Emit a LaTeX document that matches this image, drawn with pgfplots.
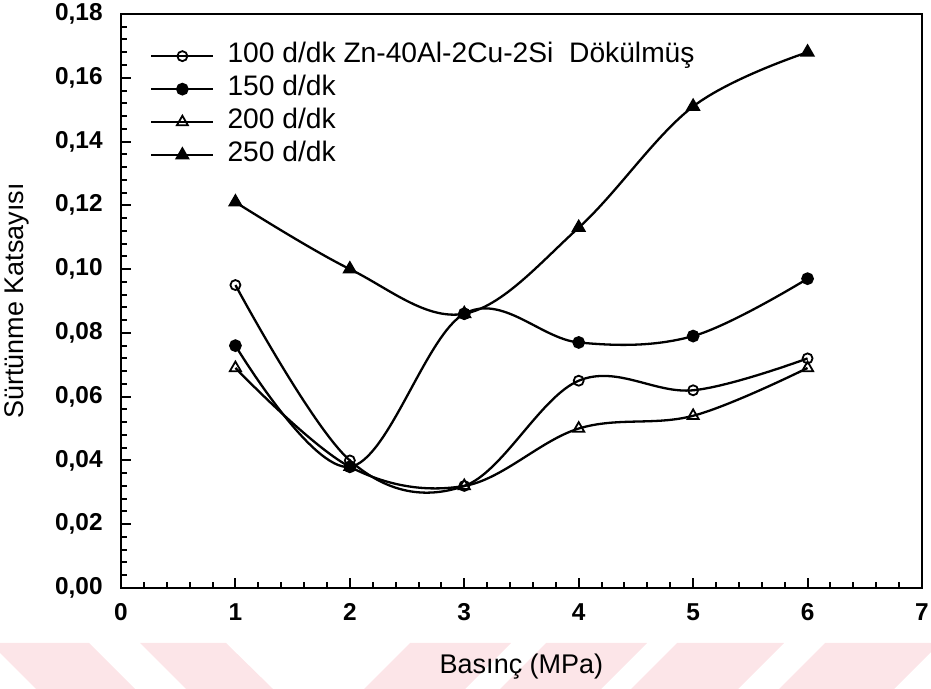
\documentclass[border=0pt]{standalone}
\usepackage{fontspec}
\setmainfont{Liberation Sans}
\usepackage{pgfplots}
\pgfplotsset{compat=1.18}
\definecolor{stripepink}{RGB}{252,229,232}
\newcommand{\tickfont}{\fontsize{12.2}{14}\selectfont\bfseries}

\begin{document}
\begin{tikzpicture}[x=0.5pt,y=0.5pt]
\useasboundingbox (0,0) rectangle (931,689);
% pale diagonal bands along the bottom edge
\fill[stripepink] (-10,46) -- (89,46) -- (135,0) -- (36,0) -- cycle;
\fill[stripepink] (140,46) -- (226,46) -- (273,0) -- (186,0) -- cycle;
\fill[stripepink] (410,46) -- (511,46) -- (465,0) -- (364,0) -- cycle;
\fill[stripepink] (546,46) -- (647,46) -- (601,0) -- (500,0) -- cycle;
\fill[stripepink] (677,46) -- (784,46) -- (738,0) -- (631,0) -- cycle;
\fill[stripepink] (825,46) -- (940,46) -- (894,0) -- (779,0) -- cycle;

\begin{axis}[
  at={(60.5pt,50.5pt)}, anchor=south west,
  scale only axis, width=400.5pt, height=287pt,
  xmin=0, xmax=7, ymin=0, ymax=0.18,
  xtick={0,1,2,3,4,5,6,7},
  ytick={0,0.02,0.04,0.06,0.08,0.10,0.12,0.14,0.16,0.18},
  minor x tick num=4, minor y tick num=4,
  scaled y ticks=false,
  tick align=inside, tick pos=left,
  major tick length=5pt, minor tick length=3pt,
  axis line style={line width=1.35pt},
  every tick/.style={black, line width=1pt},
  /pgf/number format/assume math mode=true,
  xticklabel={\tickfont\pgfmathprintnumber{\tick}},
  yticklabel={\tickfont\pgfmathprintnumber[fixed, fixed zerofill, precision=2, use comma]{\tick}},
  yticklabel style={anchor=east, inner sep=0pt, xshift=-9pt},
  xticklabel style={anchor=north, inner sep=0pt, yshift=-7.5pt},
  xlabel={Basınç (MPa)},
  ylabel={Sürtünme Katsayısı},
  every axis x label/.style={at={(axis description cs:0.5,0)}, anchor=north, inner sep=0pt,
                             yshift=-33pt, font=\fontsize{13.5}{15}\selectfont},
  every axis y label/.style={at={(axis description cs:-0.13,0.5)}, anchor=center, rotate=90,
                             inner sep=0pt, font=\fontsize{13.5}{15}\selectfont},
  legend cell align=left,
  legend image code/.code={%
    \draw[mark repeat=2, mark phase=2, #1] plot coordinates {(0pt,0pt) (15.5pt,0pt) (31pt,0pt)};},
  legend style={at={(rel axis cs:0.036,0.952)}, anchor=north west, draw=none, fill=none,
                font=\fontsize{14.1}{15}\selectfont, inner sep=0pt, row sep=2.3pt,
                nodes={inner ysep=0pt, inner xsep=3.5pt, text height=10.5pt, text depth=3.7pt},
                /tikz/every odd column/.append style={column sep=3pt}},
  every axis plot/.append style={black, line width=1.15pt, smooth, tension=0.6},
]
\addplot[mark=o, mark size=2.5pt, mark options={solid, fill=white, line width=0.9pt}]
  coordinates {(1,0.095) (2,0.040) (3,0.032) (4,0.065) (5,0.062) (6,0.072)};
\addlegendentry{100 d/dk Zn-40Al-2Cu-2Si\ \ Dökülmüş}
\addplot[mark=*, mark size=2.6pt, mark options={solid}]
  coordinates {(1,0.076) (2,0.038) (3,0.086) (4,0.077) (5,0.079) (6,0.097)};
\addlegendentry{150 d/dk}
\addplot[mark=triangle, mark size=3.2pt, mark options={solid, fill=white, line width=0.9pt}]
  coordinates {(1,0.069) (2,0.038) (3,0.032) (4,0.050) (5,0.054) (6,0.069)};
\addlegendentry{200 d/dk}
\addplot[mark=triangle*, mark size=3.2pt, mark options={solid}]
  coordinates {(1,0.121) (2,0.100) (3,0.086) (4,0.113) (5,0.151) (6,0.168)};
\addlegendentry{250 d/dk}
\end{axis}
\end{tikzpicture}
\end{document}
